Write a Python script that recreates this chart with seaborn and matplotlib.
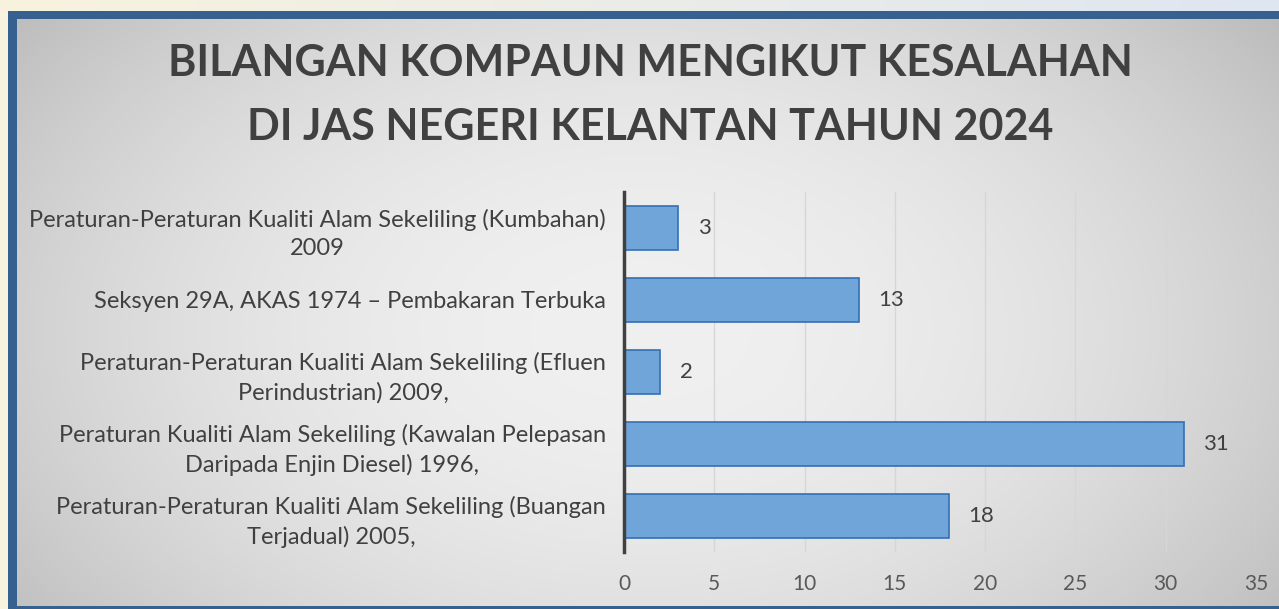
import numpy as np
import pandas as pd
import seaborn as sns
import matplotlib.pyplot as plt

# Data (top to bottom)
kesalahan = [
    "Peraturan-Peraturan Kualiti Alam Sekeliling (Kumbahan)\n2009",
    "Seksyen 29A, AKAS 1974 \u2013 Pembakaran Terbuka",
    "Peraturan-Peraturan Kualiti Alam Sekeliling (Efluen\nPerindustrian) 2009,",
    "Peraturan Kualiti Alam Sekeliling (Kawalan Pelepasan\nDaripada Enjin Diesel) 1996,",
    "Peraturan-Peraturan Kualiti Alam Sekeliling (Buangan\nTerjadual) 2005,",
]
bilangan = [3, 13, 2, 31, 18]
x_ticks = [0, 5, 10, 15, 20, 25, 30, 35]
title = "BILANGAN KOMPAUN MENGIKUT KESALAHAN\nDI JAS NEGERI KELANTAN TAHUN 2024"

df = pd.DataFrame({"Kesalahan": kesalahan, "Bilangan": bilangan})

sns.set_theme(style="white")
plt.rcParams['font.family'] = ['Lato', 'DejaVu Sans']

W, H = 1279, 609
fig = plt.figure(figsize=(W / 100, H / 100), dpi=100)

# background: cream page, blue frame, grey radial gradient panel
yy, xx = np.mgrid[0:H, 0:W]
bg = np.zeros((H, W, 3))
bg[:] = np.array([248, 243, 222]) / 255
t = (xx / W)[..., None]
strip = (1 - t) * np.array([248, 243, 222]) + t * np.array([222, 230, 242])
bg[:11] = strip[:11] / 255
bg[11:, 8:] = np.array([53, 96, 143]) / 255
d2 = ((xx - 640) / 700.0) ** 2 + ((yy - 330) / 450.0) ** 2
grey = np.clip(240 - 40 * d2, 185, 245) / 255
inner = (slice(19, 606), slice(17, W))
bg[inner] = np.stack([grey[inner]] * 3, axis=-1)
bg_ax = fig.add_axes([0, 0, 1, 1], zorder=-1)
bg_ax.imshow(bg, aspect='auto', interpolation='bilinear')
bg_ax.axis('off')

ax = fig.add_axes([624 / W, 1 - 552 / H, (1256 - 624) / W, (552 - 192) / H])
ax.patch.set_alpha(0)

sns.barplot(data=df, x="Bilangan", y="Kesalahan", orient="h", ax=ax,
            color="#6fa5d8", edgecolor="#3370b5", linewidth=1.2,
            width=0.62, saturation=1, zorder=3)

for c in ax.containers:
    ax.bar_label(c, padding=14, fontsize=16, color="#404040")

ax.set_xlim(0, 35)
ax.set_xticks(x_ticks)
ax.grid(axis='x', color="#d6d6d6", linewidth=1, zorder=0)
ax.set_axisbelow(True)
for s in ['top', 'right', 'bottom']:
    ax.spines[s].set_visible(False)
ax.spines['left'].set_color("#404040")
ax.spines['left'].set_linewidth(2.5)
ax.spines['left'].set_zorder(4)
ax.tick_params(axis='x', length=0, pad=16, labelsize=15, labelcolor="#595959")
ax.tick_params(axis='y', length=0, pad=13, labelsize=17, labelcolor="#404040")
for lbl in ax.get_yticklabels():
    lbl.set_multialignment('center')
    lbl.set_linespacing(1.45)
ax.set_xlabel("")
ax.set_ylabel("")

fig.text(650 / W, 1 - 95 / H, title, ha='center', va='center',
         fontsize=31, fontweight='bold', color="#404040", linespacing=1.72)

fig.savefig("out.png", dpi=100)
